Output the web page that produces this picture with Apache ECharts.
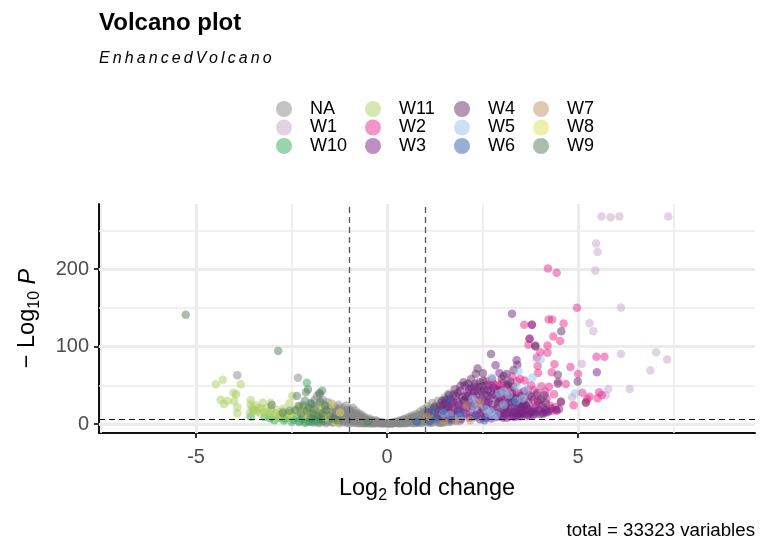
<!DOCTYPE html>
<html><head><meta charset="utf-8">
<style>html,body{margin:0;padding:0;background:#fff}#c{width:768px;height:547px}</style>
<script src="https://cdn.jsdelivr.net/npm/echarts@6/dist/echarts.min.js"></script>
</head><body><div id="c"></div>
<script>
const seriesNames = ['NA','W1','W10','W11','W2','W3','W4','W5','W6','W7','W8','W9'];
const xTicks = [-5,0,5];
const yTicks = [0,100,200];
const xMinor = [-7.5,-2.5,2.5,7.5];
const yMinor = [50,150,250];
const foldCutoffs = [-1,1];
const pCutoff = 6.3;

const NA = [[-3.92,62.8],[-2.33,59.8],[-1.84,36],[-1.78,40],[-1.9,31],[-2.2,12],[-2.1,7],[-2.3,2.5],[-2.15,1.5],[-2.05,3.5],[-2,14],[-1.95,9],[-1.92,2],[-1.88,22],[-1.85,5],[-1.82,15],[-1.8,1.2],[-1.78,10],[-1.75,27],[-1.72,18],[-1.7,3.5],[-1.68,31],[-1.66,8],[-1.62,23],[-1.6,1],[-1.58,13],[-1.55,28],[-1.52,5],[-1.5,19],[-1.47,9.5],[-1.45,26],[-1.42,1.5],[-1.4,14],[-1.37,22],[-1.35,5],[-1.32,9],[-1.3,18],[-1.27,25],[-1.25,1],[-1.22,12],[-1.2,5.5],[-1.17,21],[-1.15,16],[-1.12,2],[-1.1,9],[-1.07,24],[-1.05,12],[-1.02,5],[-1,19],[-0.98,1],[-0.95,15],[-0.92,8],[-0.9,21],[-0.87,3],[-0.85,12],[-0.82,17],[-0.8,6],[-0.77,1],[-0.75,14],[-0.72,9],[-0.7,3.5],[-0.67,12],[-0.65,7],[-0.62,1],[-0.6,9.5],[-0.57,4],[-0.55,7],[-0.52,1.2],[-0.5,5],[-0.46,7],[-0.43,2.5],[-0.4,5],[-0.36,1],[-0.33,3.5],[-0.3,5],[-0.26,1.5],[-0.22,3],[-0.18,1],[-0.14,2],[-0.1,0.8],[-0.05,1.2],[0,0.6],[0.05,1],[0.1,1.5],[0.14,0.7],[0.18,2],[0.22,3],[0.26,1],[0.3,4],[0.33,2],[0.36,5],[0.4,1],[0.43,6],[0.46,3],[0.5,7.5],[0.52,1.2],[0.55,5],[0.58,9],[0.6,2.5],[0.63,7],[0.66,11],[0.68,4],[0.7,1],[0.73,9],[0.76,13],[0.78,5.5],[0.8,2],[0.83,11],[0.86,16],[0.88,7],[0.9,1.2],[0.93,13],[0.96,19],[0.98,4],[1,9],[1.03,16],[1.06,23],[1.08,1.5],[1.1,12],[1.13,6],[1.16,19],[1.18,27],[1.2,2],[1.23,10],[1.26,15],[1.28,24],[1.3,4],[1.33,30],[1.36,8],[1.38,19],[1.42,2],[1.45,12],[1.48,26],[1.5,34],[1.53,5],[1.56,17],[1.6,39],[1.63,9],[1.66,3],[1.7,22],[1.75,13],[1.8,5],[1.85,9],[1.9,4],
[-1.98,5],[-1.86,11],[-1.74,6],[-1.69,12],[-1.64,17],[-1.59,7],[-1.54,21],[-1.49,3],[-1.44,17],[-1.39,8],[-1.34,15],[-1.29,3],[-1.24,19],[-1.19,9],[-1.14,4],[-1.09,15],[-1.04,1.5],[-0.99,11],[-0.94,4],[-0.89,10],[-0.84,1.5],[-0.79,11],[-0.74,4],[-0.69,1],[-0.64,4],[-0.59,1.5],[-0.54,3],[-0.48,1],[-0.42,0.8],[-0.34,1],[-0.28,3],[-0.2,2],[-0.12,1.5],[0.12,1],[0.2,1.5],[0.28,2.5],[0.34,1],[0.41,3],[0.48,1],[0.56,2],[0.62,4],[0.68,7],[0.74,3],[0.79,8],[0.85,4],[0.91,9],[0.97,2],[1.02,6],[1.07,13],[1.12,3],[1.17,8],[1.22,14],[1.27,5],[1.32,12],[1.37,2],[1.41,7],[1.44,17],[1.49,4],[1.52,10],[1.58,22],[1.64,14],[1.68,28],[1.72,6],
[-1.96,3],[-1.83,7],[-1.76,2],[-1.71,9],[-1.67,4],[-1.63,11],[-1.57,3],[-1.53,9],[-1.48,15],[-1.46,6],[-1.41,11],[-1.38,3],[-1.33,20],[-1.31,7],[-1.26,14],[-1.23,4],[-1.18,16],[-1.16,7],[-1.13,12],[-1.08,4],[-1.06,18],[-1.03,8],[-1.01,14],[-0.97,6],[-0.96,18],[-0.93,11],[-0.91,2],[-0.88,14],[-0.86,5],[-0.83,9],[-0.81,13],[-0.78,3],[-0.76,7],[-0.73,11],[-0.71,1.5],[-0.68,6],[-0.66,9],[-0.63,3],[-0.61,6],[-0.58,1],[-0.56,5],[-0.53,4],[-0.49,3],[-0.45,4],[-0.41,3],[-0.37,3],[-0.31,2],[-0.24,1],[-0.16,1],[-0.08,1.2],[0.02,1],[0.08,0.8],[0.16,1.2],[0.24,2],[0.32,1],[0.38,2.5],[0.44,1.5],[0.47,5],[0.54,3],[0.59,6],[0.64,1.2],[0.67,9],[0.71,5],[0.75,1.5],[0.77,10],[0.81,6],[0.84,1.5],[0.87,12],[0.89,4],[0.92,7],[0.95,15],[0.99,12],[1.01,3],[1.04,10],[1.05,19],[1.09,7],[1.11,15],[1.14,1.5],[1.15,10],[1.19,5],[1.21,18],[1.24,7],[1.25,21],[1.29,11],[1.31,17],[1.34,1.5],[1.35,22],[1.39,12],[1.4,27],[1.43,5],[1.46,21],[1.47,1.5],[1.51,14],[1.54,29],[1.55,8],[1.59,3],[1.61,18],[1.65,33],[1.67,9],[1.73,17],[1.77,26],[1.82,11],[1.88,16]];
const W1 = [[5.61,268],[5.85,267],[6.08,268],[7.36,268],[5.47,233],[5.51,222],[5.45,198],[6.12,150.5],[5.3,130],[5.4,119.6],[6.12,90.3],[7.04,92.5],[7.33,83.4],[6.89,69.2],[5.1,77.8],[6.35,45.2],[5.79,45.2],[5.72,37],[4.84,34.4]];
const W10 = [[-2.1,53.3],[-3.57,9.5],[-3.06,7.3],[-2.95,5],[-2.82,8],[-2.7,4.5],[-2.62,10],[-2.45,5.2],[-2.38,8],[-2.3,3.5],[-2.22,6.5],[-2.02,3],[-1.95,6],[-1.86,3.5],[-1.75,5.2],[-1.66,4],[-2.55,14],[-2.18,11],[-3.2,9],[-2.5,3],[-2.12,2.5],[-2.68,7]];
const W11 = [[-4.48,51.2],[-4.3,57.2],[-3.83,51.2],[-4.02,40.4],[-3.95,38.3],[-4.36,31.4],[-4.27,25.8],[-4.18,30.1],[-4,29.7],[-3.92,21.5],[-3.92,13.8],[-3.57,31],[-3.57,25],[-3.54,20.2],[-3.59,14.6],[-3.48,18],[-3.44,24],[-3.37,20.2],[-3.25,27.5],[-3.04,27.5],[-3.15,20.2],[-3.32,13.8],[-3.2,15],[-3.08,12],[-3.02,18],[-2.89,18],[-2.97,11],[-2.8,13],[-2.71,20],[-2.65,15],[-2.56,26.7],[-2.48,36.6],[-2.42,17],[-2.34,23],[-2.58,9],[-2.76,9.5],[-2.88,7.5],[-2.2,19],[-2.12,14],[-1.95,20],[-3.5,17],[-3.4,16],[-3.3,20],[-3.1,16],[-2.92,14],[-2.74,16],[-2.5,12],[-2.28,15],[-2.02,12],[-1.8,14]];
const W2 = [[4.21,200.9],[4.44,195.3],[4.97,150.1],[4.23,135],[4.32,135],[3.59,128.2],[3.79,128.2],[4.62,129.9],[4.35,113.1],[4.53,107.1],[3.73,110.1],[3.7,102.4],[4.2,101.5],[4.01,92.5],[4.2,92],[3.92,86],[3.94,74.8],[4.38,77],[4.8,73.5],[4.31,66.7],[3.95,65.8],[5,64.5],[5.48,86.9],[5.69,86.9],[3.28,61],[2.61,55.5],[2.83,49.5],[2.91,50.3],[3.6,56.3],[3.77,49.9],[3.84,43.9],[4.04,48.6],[4.24,48.2],[4.48,54.6],[4.68,51.6],[3.37,39.6],[4.37,38.3],[5.11,40.4],[5.55,40.9],[5.51,33.1],[5.62,37.4],[5.24,32.3],[5.3,35.3],[5.21,28.8],[4.88,24.1],[3.83,31],[4.44,17.2],[3.54,22.4],[2.7,50],[3.1,49],[3.25,44],[3.45,40],[3.96,28],[4.1,20],[4.26,24],[4.18,33],[3.7,19],[3.9,24],[3.2,28],[2.98,31],[4.4,22],[4.3,17],[3.52,13],[3.75,16],[4.55,28],[3.4,55],[2.78,52],[2.96,48],[3.02,53],[3.48,58],[3.68,44],[3.92,37],[4.14,42],[3.3,35],[3.14,38]];
const W3 = [[3.27,142.4],[3.79,128.2],[3.73,110.1],[3.88,101.5],[2.84,75.7],[2.94,65.8],[3.13,64.5],[5.49,66.7],[3.39,82.2],[1.32,12],[1.41,19],[1.47,8],[1.52,26],[1.58,14],[1.63,31],[1.66,7],[1.71,21],[1.74,38],[1.78,11],[1.83,29],[1.86,17],[1.91,43],[1.94,6],[1.97,35],[2.01,23],[2.04,50],[2.07,13],[2.11,41],[2.13,30],[2.16,8],[2.2,47],[2.22,19],[2.25,36],[2.29,26],[2.31,52],[2.34,11],[2.38,43],[2.41,31],[2.43,6],[2.47,22],[2.5,49],[2.52,15],[2.55,38],[2.58,28],[2.61,10],[2.64,44],[2.67,19],[2.7,33],[2.73,7],[2.76,25],[2.78,47],[2.82,14],[2.85,37],[2.88,21],[2.91,10],[2.94,29],[2.97,44],[3,17],[3.03,8],[3.06,34],[3.09,24],[3.12,13],[3.15,50],[3.18,19],[3.21,10],[3.24,28],[3.27,40],[3.3,15],[3.33,9],[3.36,23],[3.39,12],[3.42,33],[3.45,18],[3.48,10],[3.51,26],[3.55,13],[3.58,42],[3.62,18],[3.66,11],[3.7,28],[3.74,14],[3.78,35],[3.82,12],[3.86,21],[3.9,16],[3.95,30],[4,13],[4.05,24],[4.1,15],[4.15,18],[4.22,16],[4.3,20],[4.42,18],[1.55,20],[1.69,13],[1.88,25],[2.02,15],[2.18,27],[2.36,18],[2.6,24],[2.8,18],[3.02,12],[3.2,15],[3.35,16],[3.5,15],[3.68,20],[4.5,19],[1.44,30],[1.6,22],[1.8,36],[1.99,30],[2.09,22],[2.24,10],[2.27,42],[2.44,14],[2.49,33],[2.57,8],[2.68,12],[2.75,38],[2.84,9],[2.9,33],[2.96,13],[3.08,18],[3.14,8],[3.26,21],[3.32,12],[3.4,10],[3.46,14],[3.53,18],[3.6,13],[3.64,24],[3.72,11],[3.8,16],[3.88,13],[3.98,18],[4.08,13],[4.18,15],[1.72,28],[1.9,20],[2.06,36],[2.15,45],[2.33,38],[2.4,48],[2.53,44],[2.66,28],[2.71,42],[2.92,40],[3.1,30],[3.28,35],[3.44,23],[3.57,30]];
const W4 = [[4.56,119.6],[3.88,100],[2.72,90.3],[3.41,76.6],[2.37,71.8],[3.31,69.7],[2.32,64.5],[2.51,65.4],[4.47,63.7],[4.99,55],[4.47,52],[3.05,62],[3,58],[3.22,55],[3.17,52],[2.2,58],[2,54],[2.42,54],[1.4,24],[1.52,31],[1.62,37],[1.77,45],[1.92,49],[2.12,52],[2.28,48],[2.46,42],[2.63,36],[2.88,44],[3.05,40],[3.24,33],[3.36,31],[3.5,36],[3.72,37],[3.93,40],[4.12,37],[4.55,29],[5.2,27],[2.02,31],[2.21,24],[2.56,17],[2.9,27],[3.1,22],[3.43,27],[3.6,25],[4.03,32],[4.15,27],[1.08,15],[1.24,22],[2.75,58],[2.52,56],[2.62,50],[3.3,48],[2.12,36],[1.85,40]];
const W5 = [[2.74,60.2],[3.44,68],[4.02,83.4],[3.81,60.2],[3.66,44.7],[4.92,39.6],[2.93,39.6],[3.39,48.2],[3.19,37.4],[3.05,42],[2.29,21.5],[2.65,13.8],[2.78,8.6],[2.58,19],[1.47,13.8],[1.65,12],[3.38,30],[2.72,16],[2.86,12],[3.05,25],[2.24,32],[1.88,9],[3.55,33]];
const W6 = [[1.61,32.3],[1.47,17.2],[1.3,7.3],[2.3,9.5],[3.31,28.8],[1.91,13.8],[0.78,3],[1.68,5],[1.12,4],[2.55,5],[1.2,17]];
const W7 = [[1.04,9.5],[1.8,4],[2.18,5],[2.42,27],[2.08,24],[1.5,3]];
const W8 = [[-2.54,13.8],[-2.15,11.6],[-1.68,22.4],[-1.45,25.4],[-1.23,15],[-1.34,2],[-1.88,16],[-2.25,20],[-1.6,8.5],[-1.55,14],[-2.05,22]];
const W9 = [[-5.27,141],[-2.85,94.2],[-2.07,44.7],[-2.12,41],[-1.7,43],[-1.76,39],[-2.36,36.1],[-2.15,30.1],[-2.3,23.2],[-1.97,25.8],[-1.75,28.8],[-2.73,14.6],[-3.02,24.5],[-2.05,21],[-2.2,24],[-2.4,18],[-2.1,17],[-1.9,19],[-1.7,14],[-1.5,11],[-1.82,10],[-2,8],[-1.3,5],[-0.51,2.6],[-2.55,17],[-1.6,18],[-2.25,13],[-1.92,13],[-2,27],[-1.62,24],[-1.4,7],[-1.72,6]];
const seriesValues = [NA,W1,W10,W11,W2,W3,W4,W5,W6,W7,W8,W9];
const seriesColors = ['#888888','#c7a3ca','#31a959','#abcd61','#e52d91','#792185','#652d69','#91c3ed','#315dad','#c19365','#dbe159','#537d5b'];
const legendColumns = [['NA','W1','W10'],['W11','W2','W3'],['W4','W5','W6'],['W7','W8','W9']];
const legendLefts = [271,360,449,528];

// the subtitle is widely tracked in the reference
const baseFill = CanvasRenderingContext2D.prototype.fillText;
CanvasRenderingContext2D.prototype.fillText = function(t,x,y,m){
  if(t==='EnhancedVolcano'){this.letterSpacing='3.1px';baseFill.call(this,t,x,y);this.letterSpacing='0px';}
  else if(m===undefined){baseFill.call(this,t,x,y);} else {baseFill.call(this,t,x,y,m);}
};

const FONT = '"Liberation Sans", Arial, sans-serif';
const gridLines = (vals,key,w)=>vals.map(v=>({[key]:v,lineStyle:{color:'#ebebeb',width:w,type:'solid'}}));
const chart = echarts.init(document.getElementById('c'),null,{renderer:'canvas',width:768,height:547});
chart.setOption({
  animation:false,
  backgroundColor:'#fff',
  textStyle:{fontFamily:FONT},
  title:[
    {text:'Volcano plot',left:99,top:11,padding:0,textStyle:{fontFamily:FONT,fontSize:24,fontWeight:'bold',color:'#000'}},
    {text:'EnhancedVolcano',left:99,top:51,padding:0,textStyle:{fontFamily:FONT,fontSize:16,fontStyle:'italic',fontWeight:'normal',color:'#000'}},
    {text:'total = 33323 variables',right:13,top:521,padding:0,textStyle:{fontFamily:FONT,fontSize:18.7,fontWeight:'normal',color:'#000'}}
  ],
  legend:legendColumns.map((names,i)=>({
    data:names,orient:'vertical',left:legendLefts[i],top:95,itemWidth:42,itemHeight:16,itemGap:0.5,icon:'circle',
    selectedMode:false,textStyle:{fontFamily:FONT,fontSize:18,color:'#000'}
  })),
  grid:{left:99,right:13,top:204,bottom:114,containLabel:false},
  xAxis:{type:'value',min:-7.54,max:9.63,
    name:'{n|Log}{s|2}{n| fold change}',nameLocation:'middle',nameGap:41,
    nameTextStyle:{rich:{n:{fontFamily:FONT,fontSize:23.5,color:'#000',lineHeight:30,verticalAlign:'middle'},s:{fontFamily:FONT,fontSize:16,color:'#000',lineHeight:30,verticalAlign:'bottom'}}},
    axisLine:{onZero:false,lineStyle:{color:'#111',width:2}},
    axisTick:{length:5,lineStyle:{color:'#333',width:2},customValues:xTicks},
    axisLabel:{fontFamily:FONT,fontSize:20,color:'#4d4d4d',margin:14,customValues:xTicks,formatter:v=>String(v)},
    splitLine:{show:false}},
  yAxis:{type:'value',min:-11.6,max:284,
    name:'{n|\u2212 Log}{s|10}{i| P}',nameLocation:'middle',nameGap:56,nameRotate:90,
    nameTextStyle:{rich:{n:{fontFamily:FONT,fontSize:23.5,color:'#000',lineHeight:30,verticalAlign:'middle'},s:{fontFamily:FONT,fontSize:16,color:'#000',lineHeight:30,verticalAlign:'bottom'},i:{fontFamily:FONT,fontSize:23.5,fontStyle:'italic',color:'#000',lineHeight:30,verticalAlign:'middle'}}},
    axisLine:{onZero:false,lineStyle:{color:'#111',width:2}},
    axisTick:{length:5,lineStyle:{color:'#333',width:2},customValues:yTicks},
    axisLabel:{fontFamily:FONT,fontSize:20,color:'#4d4d4d',margin:10,customValues:yTicks,formatter:v=>String(v)},
    splitLine:{show:false}},
  series:[
    {name:'gridlines',type:'scatter',data:[],z:1,silent:true,
     markLine:{z:1,silent:true,symbol:'none',label:{show:false},animation:false,
       data:[...gridLines(xMinor,'xAxis',1.6),...gridLines(yMinor,'yAxis',1.6),...gridLines(xTicks,'xAxis',3),...gridLines(yTicks,'yAxis',3)]}},
    ...seriesNames.map((n,i)=>({name:n,type:'scatter',data:seriesValues[i],symbolSize:8.5,z:3,
       itemStyle:{color:seriesColors[i],opacity:0.5},emphasis:{disabled:true}})),
    {name:'cutoffs',type:'scatter',data:[],z:5,silent:true,
     markLine:{z:5,silent:true,symbol:'none',label:{show:false},animation:false,
       data:[...foldCutoffs.map(v=>({xAxis:v,lineStyle:{color:'#555',width:1.3,type:[6,4]}})),
             {yAxis:pCutoff,lineStyle:{color:'#111',width:1.2,type:[6,4]}}]}}
  ]
});
</script></body></html>
